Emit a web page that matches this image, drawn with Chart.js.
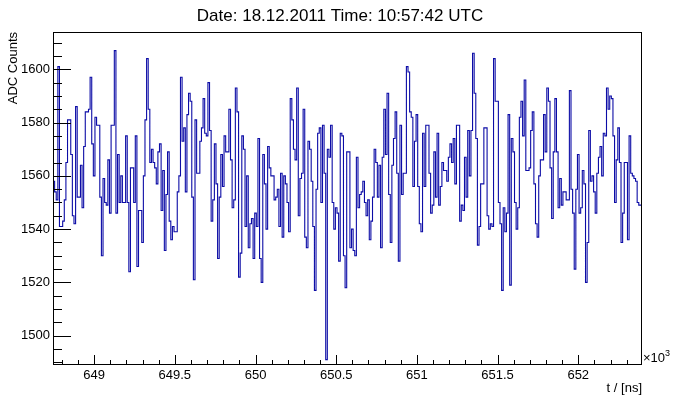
<!DOCTYPE html>
<html lang="en">
<head>
<meta charset="utf-8">
<script src="https://cdn.jsdelivr.net/npm/chart.js@4.4.0/dist/chart.umd.min.js"></script>
<style>
  body { margin: 0; background: #fff; }
  #wrap { width: 674px; height: 396px; }
</style>
</head>
<body>
<div id="wrap"><canvas id="trace" width="674" height="396"></canvas></div>
<script>
// FADC trace, one value per 10 ns bin (t in units of 10^3 ns)
const tStart = 648.745;
const binWidth = 0.01;
const adcCounts = [
  1558,1554,1551,1601,1541,1541,1543,1551,1565,1581,
  1581,1568,1545,1542,1586,1552,1552,1564,1548,1571,
  1584,1584,1585,1597,1572,1560,1582,1579,1579,1552,
  1530,1559,1550,1549,1566,1546,1579,1579,1607,1546,
  1568,1550,1560,1550,1550,1575,1550,1524,1563,1563,
  1550,1575,1526,1547,1547,1535,1560,1581,1604,1585,
  1565,1570,1565,1563,1557,1569,1572,1547,1562,1532,
  1553,1569,1543,1536,1541,1539,1539,1554,1560,1597,
  1573,1578,1554,1583,1591,1588,1552,1521,
  1581,1561,1561,1573,1578,1589,1576,1575,1595,1577,
  1543,1551,1572,1557,1529,1552,1568,1556,1575,1569,
  1569,1585,1566,1548,1551,1593,1584,1522,1531,1575,
  1570,1541,1560,1533,1542,1544,1529,1546,1541,1574,
  1529,1520,1568,1557,1540,1571,1563,1560,1560,1551,
  1552,1555,1541,1561,1537,1560,1557,1550,1539,1589,
  1581,1570,1566,1593,1545,1559,1561,1585,1537,1533,
  1573,1570,1558,1541,1517,1555,1576,1578,1550,1579,
  1561,1491,1570,1567,1579,1550,1540,1548,1546,1528,
  1576,1575,1530,1518,1569,1569,1533,1540,1532,1530,
  1567,1548,1553,1554,1558,1550,1545,1551,1536,1543,
  1552,1570,1565,1552,1564,1533,1567,1585,1568,1591,
  1553,1535,1564,1574,1584,1561,1528,1579,1553,1561,
  1561,1601,1599,1584,1582,1556,1573,1583,1556,1542,
  1539,1576,1556,1579,1579,1561,1546,1549,1569,1552,
  1576,1549,1556,1565,1562,1562,1558,1567,1572,1565,
  1574,1557,1579,1579,1543,1549,1547,1567,1552,1577,
  1560,1577,1606,1591,1574,1534,
  1541,1557,1557,1578,1578,1545,1540,1542,1541,1604,
  1588,1588,1550,1542,1517,1548,1539,
  1546,1583,1519,1574,1569,1550,1540,1548,1582,1588,
  1575,1596,1562,1562,1563,1577,1584,1557,1542,1537,
  1560,1566,1566,1583,1569,1593,1588,1563,1544,1569,
  1589,1569,1548,1559,1549,1554,1554,1551,1551,1592,
  1555,1546,1525,1555,1568,1546,1548,1562,1557,1520,
  1535,1577,1558,1560,1554,1546,1561,1567,1571,1560,
  1576,1575,1593,1585,1590,1589,1575,1550,1566,1578,
  1565,1535,1546,1565,1565,1536,1575,1561,1560,1559,
  1558,1550,1549,1549
];
const yRange = [1489, 1614];
const titleText = 'Date: 18.12.2011 Time: 10:57:42 UTC';

// bin left edges, plus the closing right edge
const points = adcCounts.map((v, i) => ({ x: tStart + i * binWidth, y: v }));
points.push({ x: tStart + adcCounts.length * binWidth, y: adcCounts[adcCounts.length - 1] });

const font = 'Liberation Sans, Arial, Helvetica, sans-serif';

// ROOT-like frame: inward ticks on left/bottom, box, title, x10^3 exponent
const rootFrame = {
  id: 'rootFrame',
  afterDatasetsDraw(chart) {
    const { ctx, chartArea: a, scales: { x, y } } = chart;
    ctx.save();
    ctx.strokeStyle = '#000';
    ctx.lineWidth = 1;
    ctx.beginPath();
    for (let v = Math.ceil(y.min / 5) * 5; v <= y.max; v += 5) {
      const py = Math.round(y.getPixelForValue(v)) + 0.5;
      const len = v % 20 === 0 ? 18 : 9;
      ctx.moveTo(a.left, py);
      ctx.lineTo(a.left + len, py);
    }
    for (let k = Math.ceil(x.min * 10); k <= x.max * 10; k++) {
      const px = Math.round(x.getPixelForValue(k / 10)) + 0.5;
      const len = k % 5 === 0 ? 10 : 5;
      ctx.moveTo(px, a.bottom);
      ctx.lineTo(px, a.bottom - len);
    }
    ctx.stroke();
    ctx.strokeRect(Math.round(a.left) + 0.5, Math.round(a.top) + 0.5,
                   Math.round(a.width) - 1, Math.round(a.height) - 1);

    ctx.fillStyle = '#000';
    ctx.textBaseline = 'alphabetic';
    ctx.textAlign = 'center';
    ctx.font = '17px ' + font;
    ctx.fillText(titleText, 340, 21);

    ctx.textAlign = 'left';
    ctx.font = '13px ' + font;
    ctx.fillText('\u00d710', a.right + 1, a.bottom - 3);
    const w = ctx.measureText('\u00d710').width;
    ctx.font = '9px ' + font;
    ctx.fillText('3', a.right + 1 + w, a.bottom - 9);
    ctx.restore();
  }
};

new Chart(document.getElementById('trace'), {
  type: 'line',
  data: {
    datasets: [{
      data: points,
      stepped: true,
      borderColor: '#0c0ca6',
      borderWidth: 1.1,
      pointRadius: 0,
      fill: false
    }]
  },
  options: {
    responsive: false,
    animation: false,
    layout: { padding: { left: 0, right: 32, top: 32, bottom: 0 } },
    plugins: {
      legend: { display: false },
      tooltip: { enabled: false },
      title: { display: false }
    },
    scales: {
      x: {
        type: 'linear',
        min: tStart,
        max: tStart + adcCounts.length * binWidth,
        grid: { display: false, drawTicks: false },
        border: { display: false },
        ticks: {
          stepSize: 0.5,
          includeBounds: false,
          autoSkip: false,
          maxRotation: 0,
          padding: 3,
          color: '#000',
          font: { family: font, size: 13 },
          callback: v => String(+v.toFixed(1))
        },
        title: {
          display: true,
          text: 't / [ns]',
          align: 'end',
          color: '#000',
          font: { family: font, size: 13 },
          padding: { top: 0, bottom: 0 }
        },
        afterFit(scale) { scale.height = 31; }
      },
      y: {
        min: yRange[0],
        max: yRange[1],
        grid: { display: false, drawTicks: false },
        border: { display: false },
        ticks: {
          stepSize: 20,
          includeBounds: false,
          padding: 3,
          color: '#000',
          font: { family: font, size: 13 },
          callback: v => String(v)
        },
        title: {
          display: true,
          text: 'ADC Counts',
          align: 'end',
          color: '#000',
          font: { family: font, size: 13 },
          padding: { top: 6, bottom: 0 }
        },
        afterFit(scale) { scale.width = 53; }
      }
    }
  },
  plugins: [rootFrame]
});
</script>
</body>
</html>
